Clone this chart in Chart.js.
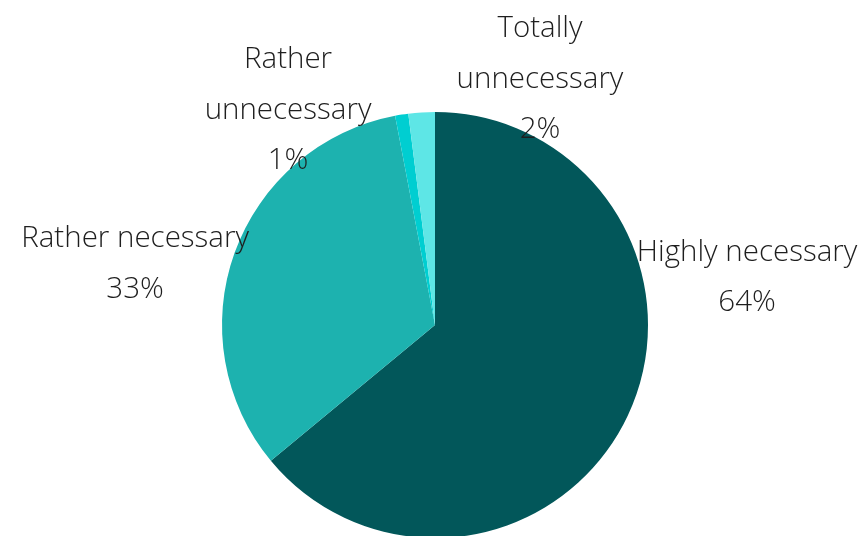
<!DOCTYPE html>
<html>
<head>
<meta charset="utf-8">
<script src="https://cdn.jsdelivr.net/npm/chart.js@4.4.1/dist/chart.umd.min.js"></script>
<style>
	html, body { margin: 0; padding: 0; background: #fff; overflow: hidden; }
	#wrap { width: 864px; height: 540px; position: relative; }
</style>
</head>
<body>
<div id="wrap"><canvas id="pieChart"></canvas></div>
<script>
const categories = ['Highly necessary', 'Rather necessary', 'Rather unnecessary', 'Totally unnecessary'];
const shares = [64, 33, 1, 2];
const sliceColors = ['#02575A', '#1DB2AF', '#00CED1', '#5EE6E6'];
// label text broken into lines, as drawn beside each slice
const labelLines = [
	['Highly necessary'],
	['Rather necessary'],
	['Rather', 'unnecessary'],
	['Totally', 'unnecessary']
];
// where each label block sits, relative to the pie centre, in radius units
const labelSpots = [
	[1.465, -0.340],
	[-1.408, -0.405],
	[-0.690, -1.246],
	[0.493, -1.391]
];

// draws the category name and percent outside each slice
const outsideLabels = {
	id: 'outsideLabels',
	afterDatasetsDraw(chart) {
		const ctx = chart.ctx;
		const arcs = chart.getDatasetMeta(0).data;
		if (!arcs.length) return;
		const cx = arcs[0].x, cy = arcs[0].y, r = arcs[0].outerRadius;
		const lineH = 50.5;
		ctx.save();
		ctx.fillStyle = '#1e1e1e';
		ctx.font = '300 29.5px "Open Sans", "DejaVu Sans", sans-serif';
		ctx.textAlign = 'center';
		ctx.textBaseline = 'middle';
		categories.forEach((c, i) => {
			const x = cx + labelSpots[i][0] * r;
			let y = cy + labelSpots[i][1] * r;
			const lines = labelLines[i].concat([shares[i] + '%']);
			lines.forEach(t => {
				ctx.fillText(t, x, y);
				y += lineH;
			});
		});
		ctx.restore();
	}
};

new Chart(document.getElementById('pieChart').getContext('2d'), {
	type: 'pie',
	data: {
		labels: categories,
		datasets: [{
			data: shares,
			backgroundColor: sliceColors,
			borderWidth: 0
		}]
	},
	options: {
		responsive: true,
		maintainAspectRatio: false,
		animation: false,
		layout: {
			padding: { left: 222, right: 216, top: 112, bottom: 2 }
		},
		plugins: {
			legend: { display: false },
			tooltip: { enabled: false }
		}
	},
	plugins: [outsideLabels]
});
</script>
</body>
</html>
